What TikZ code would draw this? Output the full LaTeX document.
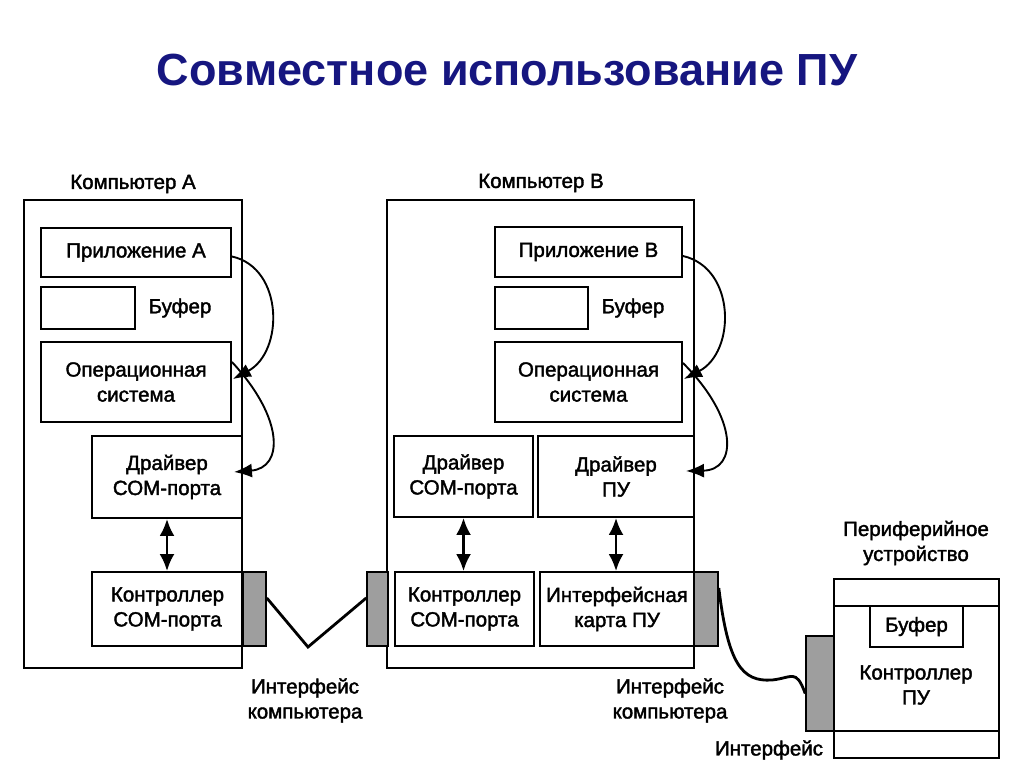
\documentclass[tikz,border=0pt]{standalone}
\usepackage{fontspec}
\setmainfont{Liberation Sans}[FakeBold=1.8]
\newfontfamily\titlefont{Liberation Sans Bold}
\usetikzlibrary{arrows.meta}
\definecolor{titleblue}{RGB}{22,22,128}
\begin{document}
\begin{tikzpicture}[x=1pt,y=-1pt,
  box/.style={draw,line width=1.9pt,inner sep=0pt,align=center,font=\fontsize{20.5}{25}\selectfont},
  port/.style={draw,line width=1.6pt,fill=black!38,inner sep=0pt},
  lbl/.style={align=center,inner sep=0pt,font=\fontsize{20.5}{25}\selectfont},
  flow/.style={line width=1.9pt,-{Latex[length=18pt,width=14pt]}},
  dbl/.style={line width=2.6pt,{Latex[length=17pt,width=15pt]}-{Latex[length=17pt,width=15pt]}},
  cable/.style={line width=2.8pt}]
\useasboundingbox (0,0) rectangle (1024,768);
\fill[white] (0,0) rectangle (1024,768);
% title
\node[font=\fontsize{45}{52}\titlefont,text=titleblue,inner sep=0pt] (title) at (507,70) {Совместное использование ПУ};
% computer A
\node[box,minimum width=218pt,minimum height=468pt] (compA) at (133,434) {};
\node[lbl] (compAl) at (133,184) {Компьютер А};
\node[box,minimum width=190pt,minimum height=49pt] (appA) at (136,252.5) {Приложение А};
\node[box,minimum width=94pt,minimum height=42pt] (bufA) at (88,308) {};
\node[lbl] (bufAl) at (180,308) {Буфер};
\node[box,minimum width=190pt,minimum height=80pt] (osA) at (136,382) {Операционная\\система};
\node[box,minimum width=150pt,minimum height=82pt] (drvA) at (167,477) {Драйвер\\СОМ-порта};
\node[box,minimum width=151pt,minimum height=74pt] (ctlA) at (167.5,609) {Контроллер\\СОМ-порта};
\node[port,minimum width=23pt,minimum height=74pt] (portA) at (254.5,609) {};
% computer B
\node[box,minimum width=307pt,minimum height=468pt] (compB) at (540.5,434) {};
\node[lbl] (compBl) at (541,183) {Компьютер В};
\node[box,minimum width=187pt,minimum height=50pt] (appB) at (588.5,252) {Приложение В};
\node[box,minimum width=93pt,minimum height=42pt] (bufB) at (541.5,308) {};
\node[lbl] (bufBl) at (633,308) {Буфер};
\node[box,minimum width=187pt,minimum height=80pt] (osB) at (588.5,382) {Операционная\\система};
\node[box,minimum width=139pt,minimum height=81pt] (drvBc) at (463.5,476.5) {Драйвер\\СОМ-порта};
\node[box,minimum width=156pt,minimum height=81pt] (drvBp) at (616,476.5) {Драйвер\\ПУ};
\node[box,minimum width=139pt,minimum height=74pt] (ctlB) at (464.5,609) {Контроллер\\СОМ-порта};
\node[box,minimum width=154pt,minimum height=74pt] (cardB) at (617,609) {Интерфейсная\\карта ПУ};
\node[port,minimum width=21pt,minimum height=74pt] (portB1) at (377.5,609) {};
\node[port,minimum width=24pt,minimum height=74pt] (portB2) at (706,609) {};
% peripheral
\node[box,minimum width=165pt,minimum height=179pt] (periph) at (916.5,668.5) {};
\coordinate (pl1) at (834,606); \coordinate (pr1) at (999,606);
\coordinate (pl2) at (834,731); \coordinate (pr2) at (999,731);
\draw[line width=1.9pt] (pl1) -- (pr1) (pl2) -- (pr2);
\node[box,minimum width=93pt,minimum height=41pt] (bufP) at (916.5,626.5) {Буфер};
\node[lbl] (ctlP) at (916,685) {Контроллер\\ПУ};
\node[port,minimum width=28pt,minimum height=95pt] (portP) at (820,683.5) {};
\node[lbl] (periphl) at (916,543) {Периферийное\\устройство};
% interface labels
\node[lbl] (ifA) at (305,700.5) {Интерфейс\\компьютера};
\node[lbl] (ifB) at (670,700.5) {Интерфейс\\компьютера};
\node[lbl] (ifP) at (769,750) {Интерфейс};
% flow arrows
\draw[flow] ([yshift=-4pt]appA.east) .. controls (284,268) and (284,352) .. ([xshift=1pt,yshift=3pt]osA.east);
\draw[flow] ([yshift=20pt]osA.east) .. controls (284,418) and (284,468) .. ([xshift=-9pt,yshift=5pt]drvA.east);
\draw[flow] ([yshift=-4pt]appB.east) .. controls (736,268) and (736,352) .. ([xshift=1pt,yshift=3pt]osB.east);
\draw[flow] ([yshift=19pt]osB.east) .. controls (738,418) and (738,470) .. ([xshift=-9pt,yshift=5.5pt]drvBp.east);
% double arrows
\draw[dbl] (drvA.south) -- (drvA.south |- ctlA.north);
\draw[dbl] (drvBc.south) -- (drvBc.south |- ctlB.north);
\draw[dbl] (drvBp.south) -- (drvBp.south |- cardB.north);
% cables
\coordinate (cabmid) at (308,647);
\draw[cable] ([yshift=11pt]portA.east) -- (cabmid) -- ([yshift=11pt]portB1.west);
\coordinate (cab2) at (772,680);
\draw[cable] ([yshift=21pt]portB2.east) .. controls (728,664) and (742,682) .. (cab2) .. controls (792,678) and (796,668) .. ([yshift=-10pt]portP.west);
\end{tikzpicture}
\end{document}
